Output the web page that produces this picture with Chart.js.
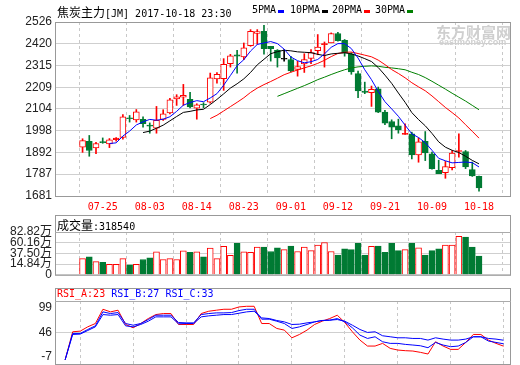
<!DOCTYPE html>
<html>
<head>
<meta charset="utf-8">
<script src="https://cdn.jsdelivr.net/npm/chart.js@4.4.1/dist/chart.umd.min.js"></script>
<style>
body{margin:0;background:#fff;}
#wrap{position:relative;width:520px;height:365px;overflow:hidden;}
canvas{position:absolute;left:0;}
.t{position:absolute;font:10px "DejaVu Sans Mono",monospace;white-space:pre;line-height:14px;color:#000;}
.c{font:12px "Noto Sans CJK SC",sans-serif;}
.sq{position:absolute;width:6px;height:3px;}
.wm{position:absolute;color:#cfcfcf;font-weight:bold;white-space:pre;}
</style>
</head>
<body>
<div id="wrap">
<canvas id="main" width="520" height="215" style="top:0"></canvas>
<canvas id="vol" width="520" height="75" style="top:210px"></canvas>
<canvas id="rsi" width="520" height="82" style="top:283px"></canvas>

<div class="t" style="left:57px;top:3px"><span class="c">焦炭主力</span>[JM] 2017-10-18 23:30</div>
<div class="t" style="left:252px;top:3px">5PMA</div><div class="sq" style="left:278px;top:10px;background:#0000ff"></div>
<div class="t" style="left:290px;top:3px">10PMA</div><div class="sq" style="left:322px;top:10px;background:#000"></div>
<div class="t" style="left:332px;top:3px">20PMA</div><div class="sq" style="left:364px;top:10px;background:#ff0000"></div>
<div class="t" style="left:375px;top:3px">30PMA</div><div class="sq" style="left:407px;top:10px;background:#008000"></div>

<div class="wm" style="left:436px;top:21px;font-size:15px;font-family:'Noto Sans CJK SC'">东方财富网</div>
<div class="wm" style="left:439px;top:37px;font-size:9px;font-family:'Liberation Sans'">eastmoney.com</div>

<div class="t" style="left:57px;top:216px"><span class="c">成交量</span>:318540</div>
<div class="t" style="left:57px;top:287px"><span style="color:#f00">RSI_A:23</span> <span style="color:#00f">RSI_B:27 RSI_C:33</span></div>
</div>

<script>
// trading days shown on the chart
let dates=["07-20","07-21","07-24","07-25","07-26","07-27","07-28","07-31","08-01","08-02",
"08-03","08-04","08-07","08-08","08-09","08-10","08-11","08-14","08-15","08-16",
"08-17","08-18","08-21","08-22","08-23","08-24","08-25","08-28","08-29","08-30",
"08-31","09-01","09-04","09-05","09-06","09-07","09-08","09-11","09-12","09-13",
"09-14","09-15","09-18","09-19","09-20","09-21","09-22","09-25","09-26","09-27",
"09-28","09-29","10-09","10-10","10-11","10-12","10-13","10-16","10-17","10-18"];
let shownDates=["07-25","08-03","08-14","08-23","09-01","09-12","09-21","10-09","10-18"];

let open=[1918,1946,1915,1941,1934,1955,1966,2058,2051,2053,2026,2010,2053,2085,2153,2161,2150,2108,2125,2137,
2249,2251,2324,2366,2356,2411,2470,2481,2408,2388,2345,2344,2296,2322,2349,2387,2416,2425,2470,2437,
2372,2275,2191,2183,2202,2088,2043,2022,1980,1983,1881,1946,1886,1806,1794,1819,1897,1897,1809,1777];
let high=[1959,1975,1942,1963,1960,1965,2077,2072,2101,2066,2036,2116,2100,2155,2173,2223,2185,2129,2134,2278,
2280,2348,2369,2388,2424,2489,2489,2510,2408,2392,2392,2359,2335,2372,2392,2465,2429,2473,2476,2441,
2377,2288,2234,2215,2210,2097,2051,2054,2032,1991,1963,1994,1894,1855,1849,1902,1983,1902,1846,1778];
let low=[1893,1874,1886,1937,1916,1947,1957,2040,2040,2015,1986,1986,2048,2080,2121,2121,2109,2054,2109,2132,
2229,2194,2307,2278,2343,2408,2418,2370,2336,2307,2336,2283,2263,2281,2324,2367,2307,2425,2433,2360,
2272,2158,2178,2116,2086,2028,1959,1986,1980,1861,1845,1853,1811,1790,1767,1808,1869,1814,1776,1705];
let close=[1950,1902,1936,1940,1954,1962,2066,2056,2090,2032,2020,2048,2080,2148,2163,2170,2114,2124,2123,2255,
2272,2320,2362,2360,2401,2481,2479,2397,2396,2352,2345,2288,2310,2343,2377,2404,2420,2470,2435,2375,
2283,2191,2184,2199,2088,2035,2015,2002,1984,1881,1944,1890,1814,1790,1824,1890,1902,1822,1778,1720];

let ma5=[null,null,null,null,1936,1939,1972,1996,2026,2041,2053,2049,2054,2066,2092,2122,2135,2144,2139,2157,
2178,2219,2266,2314,2343,2385,2417,2424,2431,2421,2394,2356,2338,2328,2333,2344,2371,2403,2421,2421,
2397,2351,2294,2246,2189,2139,2104,2068,2025,1983,1965,1940,1903,1864,1852,1842,1844,1846,1843,1822];
let ma10=[null,null,null,null,null,null,null,null,null,1989,1996,2010,2025,2046,2067,2087,2092,2099,2102,2125,
2150,2177,2205,2226,2250,2281,2318,2345,2372,2382,2389,2386,2381,2379,2377,2369,2363,2371,2374,2377,
2371,2361,2348,2334,2305,2268,2228,2181,2136,2086,2052,2022,1985,1944,1918,1903,1892,1874,1854,1837];
let ma20=[null,null,null,null,null,null,null,null,null,null,null,null,null,null,null,null,null,null,null,2057,
2073,2094,2115,2136,2158,2184,2205,2222,2237,2253,2270,2282,2293,2303,2313,2325,2340,2358,2373,2379,
2380,2373,2365,2357,2341,2319,2295,2276,2255,2231,2211,2192,2167,2139,2111,2086,2060,2027,1995,1962];
let ma30=[null,null,null,null,null,null,null,null,null,null,null,null,null,null,null,null,null,null,null,null,
null,null,null,null,null,null,null,null,null,2165,2178,2191,2204,2217,2231,2246,2258,2271,2283,2294,
2303,2308,2311,2313,2311,2306,2303,2299,2294,2282,2271,2256,2238,2219,2200,2180,2161,2142,2121,2100];

// volume in 万
let volume=[26.4,30.2,20.1,18.8,14.4,14.4,26.4,13.1,14.4,24.5,28.3,41.0,24.5,26.4,24.5,42.9,39.7,41.0,30.2,48.6,
26.4,52.4,33.4,58.7,41.0,39.7,51.1,51.1,41.6,49.2,45.4,53.0,41.6,51.1,43.5,54.9,60.6,41.6,34.0,47.3,
45.4,58.7,34.0,52.4,53.0,39.7,58.7,43.5,45.4,58.7,49.2,34.0,43.5,47.3,54.9,54.9,73.9,72.0,51.1,31.854];

let rsiA=[null,0,47.2,48.3,55.6,61.1,85.1,80.7,83.5,59.5,53.9,61.1,69.5,76.2,77.9,77.9,59.5,59.5,59.5,77.9,
81.8,83.5,85.1,85.1,89,90.1,90.1,61.1,61.1,52.8,50,37.1,42.7,50,59.5,65,69.5,75.1,62.8,47.2,
33.2,23.2,23.2,27.7,19.3,16.5,15.4,14.8,12.6,9.8,30.4,23.2,17.6,17.6,29.3,42.7,42.7,33.2,27.7,23];
let rsiB=[null,0,44.4,44.4,51.1,57.2,80.7,77.9,79.5,61.1,58.3,61.1,67.8,75.1,75.1,75.1,62.8,62.2,62.2,76.2,
77.9,79,79,79.5,82.9,85.1,85.1,68.4,68.4,65,61.1,52.8,55.5,59.5,63.9,66.2,66.7,69.5,63.9,53.9,
41.6,36,38.8,30.4,27.7,27.7,26,24.9,23.7,20.4,29.3,24.9,22.1,23.2,29.3,38.8,38.8,31.6,29.3,27];
let rsiC=[null,0,42.7,43.3,49.4,55.5,76.2,75.1,76.2,57.2,55.5,59.5,65,72.3,72.3,72.3,60.6,61.1,61.1,72.3,
74,75.1,76.2,76.2,78.4,80.7,81.8,70.6,69.5,66.2,63.9,59.5,60,62.2,63.9,66.2,66.7,67.8,65,58.3,
51.1,46.1,47.2,40.5,38.8,37.1,37.1,36,36,33.2,37.1,34.9,33.2,33.2,34.9,38.8,38.8,36,34.9,33];

let priceTicks=[1681,1787,1892,1998,2104,2209,2315,2420,2526];
let volTicks=[-7.82,14.84,37.50,60.16,82.82];
let volTickText=["0","14.84万","37.50万","60.16万","82.82万"];
let rsiTicks=[-7,46,99];

let RED="#ff0000";
let GREEN="#007a33";
let shownIdx=shownDates.map(d=>dates.indexOf(d));
let idx=dates.map((d,i)=>i);

let candleColor=idx.map(i=>close[i]>open[i]?RED:(close[i]<open[i]?GREEN:"#000"));
let bodyFill=idx.map(i=>close[i]>open[i]?(close[i]-open[i]<=8?RED:"#fff"):candleColor[i]);
let volUp=idx.map(i=>close[i]>=open[i]);

function xAxis(showLabels){
return {
type:"linear",min:-0.34,max:59.85,
afterBuildTicks:s=>{s.ticks=shownIdx.map(v=>({value:v}));},
ticks:{display:showLabels,autoSkip:false,maxRotation:0,color:RED,padding:5,
font:{family:"DejaVu Sans Mono",size:10},callback:v=>dates[v]},
grid:{color:"#c8c8c8",drawTicks:false},
border:{display:false,dash:[3,3]},
afterFit:s=>{s.height=showLabels?19:0;s.paddingLeft=0;s.paddingRight=0;}
};
}

function frame(boxTop){
return {
id:"frame",
afterDraw(chart){
let a=chart.chartArea,ctx=chart.ctx;
ctx.save();
ctx.strokeStyle="#999";
ctx.lineWidth=1;
let top=boxTop==null?a.top:boxTop;
ctx.strokeRect(a.left+0.5,top+0.5,a.right-a.left,a.bottom-top);
if(boxTop!=null){
ctx.strokeStyle="#aaa";
ctx.beginPath();
ctx.moveTo(a.left,a.top+0.5);
ctx.lineTo(a.right+1,a.top+0.5);
ctx.stroke();
}
ctx.restore();
}
};
}

let common={
responsive:false,
animation:false,
devicePixelRatio:1,
events:[],
plugins:{legend:{display:false},tooltip:{enabled:false}}
};

function maLine(data,color){
return {type:"line",data:data.map((v,i)=>({x:i,y:v})),borderColor:color,borderWidth:1,
pointRadius:0,tension:0,order:1};
}

new Chart(document.getElementById("main"),{
type:"bar",
data:{
datasets:[
maLine(ma5,"#0000ff"),
maLine(ma10,"#000000"),
maLine(ma20,"#ff0000"),
maLine(ma30,"#008000"),
{
data:idx.map(i=>({x:i,y:[open[i],close[i]]})),
backgroundColor:bodyFill,
borderColor:candleColor,
borderWidth:1,
borderSkipped:false,
barThickness:6,
minBarLength:1,
grouped:false,
order:2
},
{
data:idx.map(i=>({x:i,y:[low[i],high[i]]})),
backgroundColor:candleColor,
borderWidth:0,
barThickness:1,
grouped:false,
order:3
}
]
},
options:{
...common,
layout:{padding:{left:0,right:10,top:22,bottom:0}},
scales:{
x:xAxis(true),
y:{
type:"linear",min:1681,max:2526,
afterBuildTicks:s=>{s.ticks=priceTicks.map(v=>({value:v}));},
ticks:{color:"#222",padding:3,autoSkip:false,font:{family:"Liberation Sans",size:12},callback:v=>String(v)},
grid:{color:"#cfcfcf",drawTicks:false},
border:{display:false},
afterFit:s=>{s.width=55;}
}
}
},
plugins:[frame(null)]
});

new Chart(document.getElementById("vol"),{
type:"bar",
data:{
datasets:[{
data:idx.map(i=>({x:i,y:volume[i]})),
base:volTicks[0],
backgroundColor:idx.map(i=>volUp[i]?"#fff":GREEN),
borderColor:idx.map(i=>volUp[i]?RED:GREEN),
borderWidth:1,
barThickness:6
}]
},
options:{
...common,
layout:{padding:{left:0,right:10,top:22,bottom:5}},
scales:{
x:xAxis(false),
y:{
type:"linear",min:volTicks[0],max:volTicks[volTicks.length-1],
afterBuildTicks:s=>{s.ticks=volTicks.map(v=>({value:v}));},
ticks:{color:"#222",padding:3,autoSkip:false,font:{family:"Liberation Sans, Noto Sans CJK SC",size:12},
callback:(v,i)=>volTickText[i]},
grid:{color:"#cfcfcf",drawTicks:false},
border:{display:false},
afterFit:s=>{s.width=55;}
}
}
},
plugins:[frame(5)]
});

let rsiLabels={
id:"rsiLabels",
afterDraw(chart){
let y=chart.scales.y,a=chart.chartArea,ctx=chart.ctx;
ctx.save();
ctx.font='12px "Liberation Sans"';
ctx.fillStyle="#222";
ctx.textAlign="right";
ctx.textBaseline="middle";
rsiTicks.forEach(v=>{
let p=y.getPixelForValue(v);
p=Math.min(Math.max(p,a.top+7),a.bottom-7);
ctx.fillText(String(v),a.left-3,p);
});
ctx.restore();
}
};

function rsiLine(data,color){
return {data:data.map((v,i)=>({x:i,y:v})),borderColor:color,borderWidth:1,pointRadius:0,tension:0};
}

new Chart(document.getElementById("rsi"),{
type:"line",
data:{
datasets:[
rsiLine(rsiC,"#0000ff"),
rsiLine(rsiB,"#0000ff"),
rsiLine(rsiA,"#ff0000")
]
},
options:{
...common,
layout:{padding:{left:0,right:10,top:18,bottom:1}},
scales:{
x:xAxis(false),
y:{
type:"linear",min:rsiTicks[0],max:rsiTicks[2],
afterBuildTicks:s=>{s.ticks=rsiTicks.map(v=>({value:v}));},
ticks:{display:false},
grid:{color:c=>c.tick&&c.tick.value===46?"#cfcfcf":"rgba(0,0,0,0)",drawTicks:false},
border:{display:false},
afterFit:s=>{s.width=55;}
}
}
},
plugins:[frame(5),rsiLabels]
});
</script>
</body>
</html>
